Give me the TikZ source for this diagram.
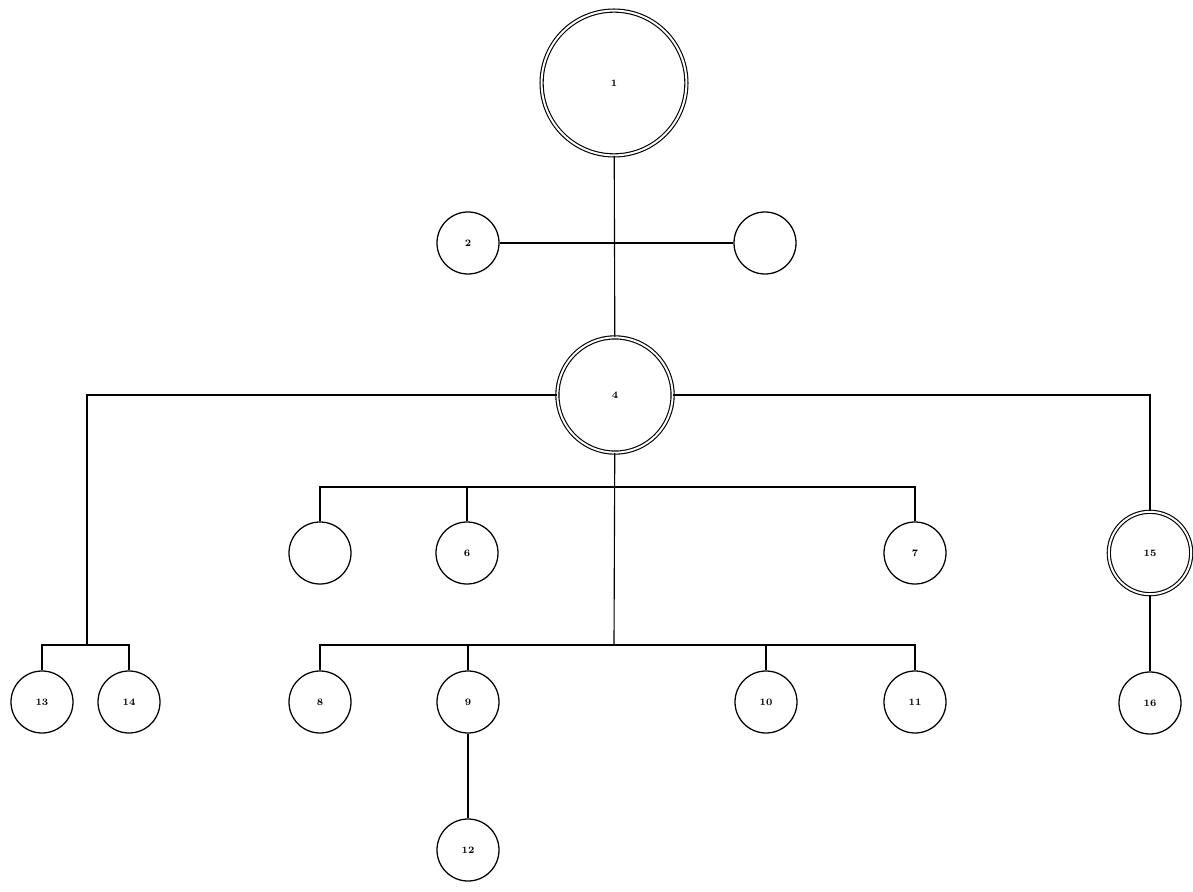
\documentclass[tikz,border=0pt]{standalone}
\usepackage{tikz}
\usetikzlibrary{positioning}

\begin{document}
\begin{tikzpicture}[x=0.25mm,y=-0.25mm,font=\scriptsize\bfseries,
  nd/.style={draw,circle,line width=0.9pt,minimum size=15.5mm,inner sep=0pt},
  dnd/.style={draw,circle,double,line width=0.8pt,double distance=1.4pt,inner sep=0pt},
  lnk/.style={line width=0.8pt}]
\useasboundingbox (0,0) rectangle (1193,892);
% top
\node[dnd,minimum size=36.2mm] (n1) at (614,83) {1};
\node[nd] (n2) at (468,243) {2};
\node[nd] (n3) at (765,243) {};
\node[dnd,minimum size=28.8mm] (n4) at (615,395) {4};
% first row
\node[nd] (n5) at (320,553) {};
\node[nd] (n6) at (467,553) {6};
\node[nd] (n7) at (915,553) {7};
\node[dnd,minimum size=20.6mm] (n15) at (1150,553) {15};
% second row
\node[nd] (n13) at (42,702) {13};
\node[nd] (n14) at (129,702) {14};
\node[nd] (n8) at (320,702) {8};
\node[nd] (n9) at (468,702) {9};
\node[nd] (n10) at (766,702) {10};
\node[nd] (n11) at (915,702) {11};
\node[nd] (n16) at (1150,703) {16};
\node[nd] (n12) at (468,850) {12};
% bus points
\coordinate (busA) at (614,487);
\coordinate (busB) at (614,645);
\coordinate (jL) at (87,645);

\draw[lnk] (n1) -- (n4);
\draw[lnk] (n2) -- (n3);
\draw[lnk] (n4) -- (busB);
\draw[lnk] (n5) |- (busA) -| (n7);
\draw[lnk] (n6) -- (n6 |- busA);
\draw[lnk] (n8) |- (busB) -| (n11);
\draw[lnk] (n9) -- (n9 |- busB);
\draw[lnk] (n10) -- (n10 |- busB);
\draw[lnk] (n9) -- (n12);
\draw[lnk] (n4) -| (jL);
\draw[lnk] (n13) |- (jL) -| (n14);
\draw[lnk] (n4) -| (n15);
\draw[lnk] (n15) -- (n16);
\end{tikzpicture}
\end{document}
